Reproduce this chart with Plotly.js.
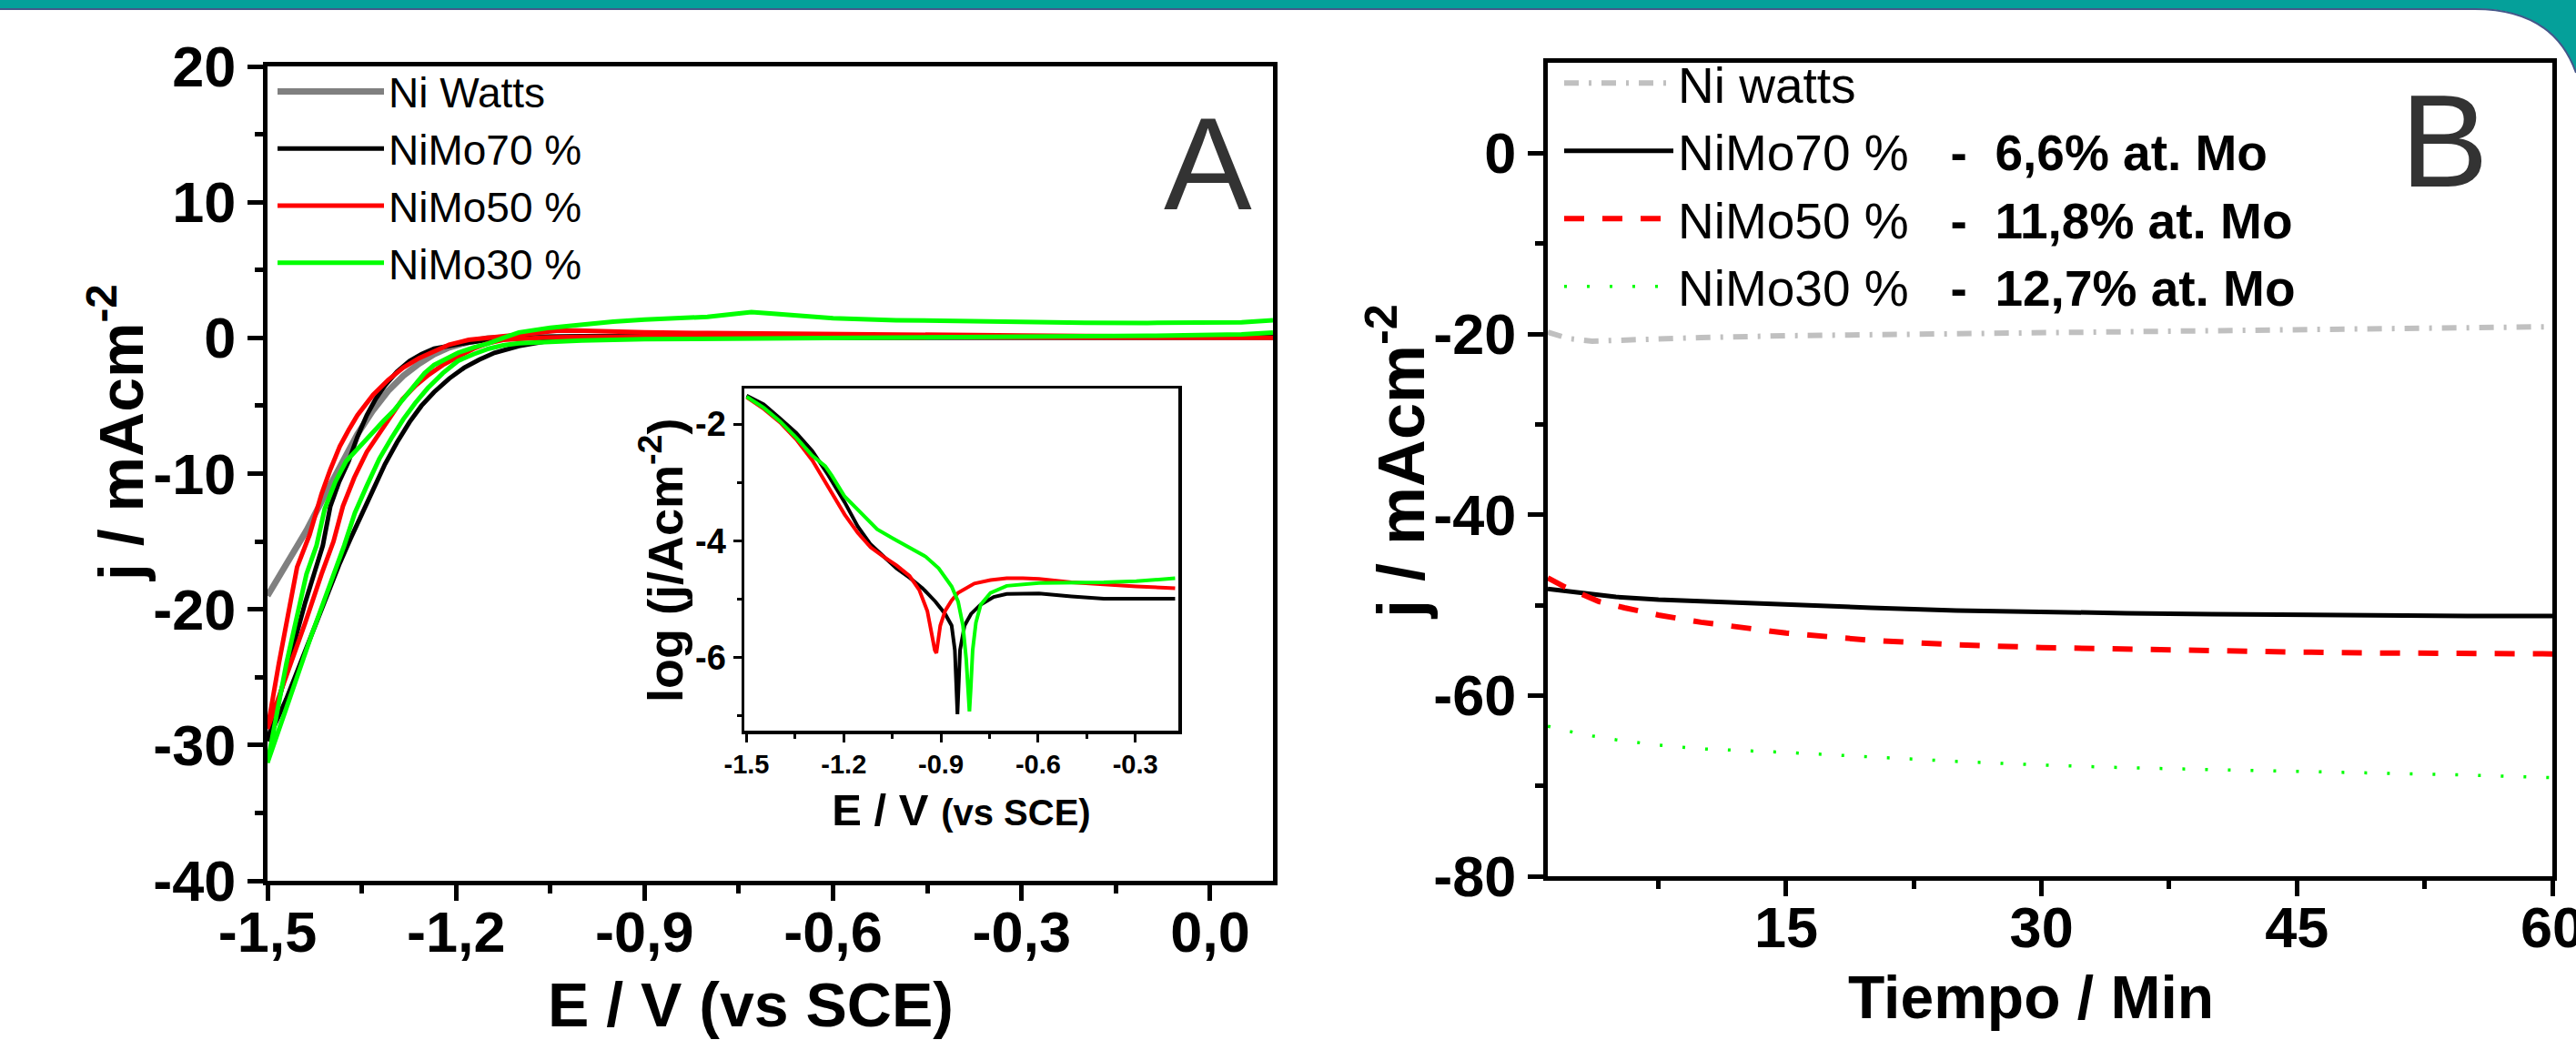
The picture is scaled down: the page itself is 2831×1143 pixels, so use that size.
<!DOCTYPE html>
<html>
<head>
<meta charset="utf-8">
<script src="https://cdn.plot.ly/plotly-3.0.1.min.js"></script>
<style>
html,body{margin:0;padding:0;background:#ffffff;}
#chart{width:2831px;height:1143px;}
</style>
</head>
<body>
<div id="chart"></div>
<script>
// ---------------- Panel A : cyclic voltammetry (E / V vs SCE, j / mA cm-2) ----------------
const cvNames = ["Ni Watts", "NiMo70 %", "NiMo50 %", "NiMo30 %"];

const cvE_NiWatts = [-1.5, -1.47, -1.438, -1.41, -1.385, -1.357, -1.333, -1.308, -1.284, -1.259, -1.235, -1.211, -1.18, -1.15, -1.1, -0.9, -0.6, -0.3, 0.0, 0.1];
const cvJ_NiWatts = [-19.0, -16.6, -14.2, -11.7, -9.5, -7.1, -5.4, -3.9, -2.8, -1.9, -1.2, -0.7, -0.3, -0.05, 0.05, 0.05, 0.05, 0.05, 0.05, 0.05];

const cvE_NiMo70 = [0.1, -0.1, -0.3, -0.5, -0.7, -0.85, -0.95, -1.0, -1.05, -1.1, -1.139, -1.163, -1.187, -1.211, -1.235, -1.255, -1.274, -1.294, -1.313, -1.332, -1.351, -1.368, -1.385, -1.41, -1.44, -1.47, -1.5,
                    -1.47, -1.44, -1.426, -1.412, -1.4, -1.386, -1.371, -1.357, -1.342, -1.328, -1.313, -1.294, -1.274, -1.255, -1.235, -1.21, -1.187, -1.15, -1.1, -1.05, -1.0, -0.95, -0.9, -0.8, -0.6, -0.4, -0.2, 0.0, 0.1];
const cvJ_NiMo70 = [0.05, 0.05, 0.05, 0.05, 0.05, 0.05, 0.03, -0.05, -0.2, -0.6, -1.1, -1.6, -2.2, -3.0, -4.0, -5.0, -6.2, -7.7, -9.3, -11.2, -13.0, -14.8, -16.6, -19.6, -23.2, -26.6, -29.7,
                    -24.5, -19.5, -17.4, -15.3, -12.4, -10.6, -9.1, -7.3, -5.7, -4.5, -3.5, -2.5, -1.7, -1.2, -0.8, -0.55, -0.4, -0.15, 0.0, 0.08, 0.12, 0.1, 0.08, 0.06, 0.05, 0.05, 0.05, 0.05, 0.05];

const cvE_NiMo50 = [0.1, 0.0, -0.2, -0.4, -0.6, -0.8, -0.9, -1.0, -1.06, -1.1, -1.125, -1.15, -1.172, -1.195, -1.221, -1.243, -1.264, -1.285, -1.303, -1.323, -1.342, -1.362, -1.38, -1.395, -1.414, -1.44, -1.47, -1.5,
                    -1.482, -1.453, -1.433, -1.414, -1.4, -1.385, -1.371, -1.357, -1.332, -1.308, -1.284, -1.259, -1.235, -1.211, -1.18, -1.148, -1.12, -1.1, -1.07, -1.04, -1.01, -0.98, -0.95, -0.9, -0.8, -0.7, -0.6, -0.45, -0.3, -0.15, 0.0, 0.1];
const cvJ_NiMo50 = [0.0, 0.02, 0.04, 0.05, 0.06, 0.08, 0.1, 0.08, 0.02, -0.05, -0.15, -0.4, -0.8, -1.35, -2.0, -2.7, -3.5, -4.5, -5.7, -7.0, -8.4, -10.3, -12.4, -15.0, -17.4, -21.0, -25.0, -28.8,
                    -24.0, -16.9, -14.5, -11.5, -9.7, -8.0, -6.8, -5.7, -4.2, -3.1, -2.2, -1.5, -1.0, -0.5, -0.15, 0.0, 0.12, 0.25, 0.42, 0.52, 0.55, 0.5, 0.45, 0.4, 0.35, 0.3, 0.27, 0.22, 0.18, 0.12, 0.05, 0.0];

const cvE_NiMo30 = [0.1, 0.05, -0.1, -0.3, -0.5, -0.7, -0.9, -1.0, -1.05, -1.1, -1.125, -1.148, -1.172, -1.197, -1.221, -1.245, -1.265, -1.284, -1.303, -1.322, -1.342, -1.361, -1.378, -1.395, -1.43, -1.465, -1.5,
                    -1.47, -1.438, -1.422, -1.409, -1.392, -1.375, -1.353, -1.332, -1.315, -1.298, -1.281, -1.264, -1.25, -1.235, -1.215, -1.197, -1.172, -1.148, -1.125, -1.1, -1.05, -1.0, -0.95, -0.9, -0.85, -0.8, -0.76, -0.73, -0.7, -0.65, -0.6, -0.5, -0.4, -0.3, -0.2, -0.1, 0.0, 0.05, 0.1];
const cvJ_NiMo30 = [0.4, 0.25, 0.15, 0.1, 0.05, 0.0, -0.1, -0.2, -0.3, -0.4, -0.55, -0.8, -1.2, -1.7, -2.6, -3.7, -4.8, -6.0, -7.4, -8.9, -10.9, -12.9, -15.3, -17.4, -21.9, -26.6, -31.3,
                    -24.0, -17.4, -15.3, -12.6, -10.6, -9.1, -8.0, -6.9, -6.1, -5.3, -4.3, -3.3, -2.6, -2.0, -1.5, -1.1, -0.7, -0.4, 0.0, 0.4, 0.75, 1.0, 1.2, 1.35, 1.45, 1.55, 1.75, 1.9, 1.8, 1.6, 1.45, 1.3, 1.22, 1.15, 1.12, 1.1, 1.1, 1.15, 1.3];

// ---------------- Inset : Tafel plot (E / V vs SCE, log j) ----------------
const tafelE_NiMo70 = [-1.5, -1.447, -1.397, -1.347, -1.297, -1.247, -1.197, -1.157, -1.117, -1.077, -1.037, -0.997, -0.957, -0.917, -0.887, -0.867, -0.857, -0.849, -0.841, -0.827, -0.807, -0.777, -0.737, -0.697, -0.597, -0.497, -0.397, -0.297, -0.177];
const tafelLogJ_NiMo70 = [-1.51, -1.66, -1.90, -2.15, -2.46, -2.88, -3.34, -3.75, -4.06, -4.27, -4.47, -4.63, -4.81, -5.04, -5.25, -5.45, -5.87, -6.97, -5.87, -5.45, -5.25, -5.09, -4.96, -4.91, -4.90, -4.95, -4.99, -4.99, -4.99];

const tafelE_NiMo50 = [-1.5, -1.447, -1.397, -1.347, -1.297, -1.247, -1.197, -1.157, -1.117, -1.077, -1.037, -0.997, -0.967, -0.942, -0.927, -0.919, -0.914, -0.909, -0.902, -0.887, -0.867, -0.847, -0.797, -0.747, -0.697, -0.647, -0.597, -0.497, -0.397, -0.297, -0.177];
const tafelLogJ_NiMo50 = [-1.54, -1.74, -1.97, -2.26, -2.62, -3.08, -3.55, -3.86, -4.11, -4.27, -4.42, -4.60, -4.84, -5.20, -5.61, -5.87, -5.92, -5.71, -5.45, -5.20, -5.02, -4.89, -4.73, -4.67, -4.64, -4.64, -4.65, -4.71, -4.75, -4.78, -4.81];

const tafelE_NiMo30 = [-1.5, -1.447, -1.397, -1.347, -1.297, -1.257, -1.237, -1.197, -1.147, -1.097, -1.047, -0.997, -0.947, -0.907, -0.867, -0.847, -0.832, -0.822, -0.815, -0.812, -0.808, -0.802, -0.792, -0.777, -0.747, -0.697, -0.597, -0.497, -0.397, -0.297, -0.177];
const tafelLogJ_NiMo30 = [-1.53, -1.72, -1.95, -2.23, -2.54, -2.72, -2.88, -3.24, -3.52, -3.80, -3.96, -4.11, -4.27, -4.47, -4.78, -5.04, -5.45, -6.02, -6.64, -6.92, -6.54, -5.87, -5.40, -5.09, -4.89, -4.77, -4.72, -4.72, -4.71, -4.69, -4.64];

// ---------------- Panel B : chronoamperometry (Tiempo / Min, j / mA cm-2) ----------------
const chronoNames = ["Ni watts", "NiMo70 %", "NiMo50 %", "NiMo30 %"];
const chronoMo = ["", "6,6% at. Mo", "11,8% at. Mo", "12,7% at. Mo"];

const timeNiWatts = [1, 2.2, 3.6, 6, 10, 15, 20, 30, 40, 50, 60];
const jNiWatts = [-19.8, -20.5, -20.8, -20.6, -20.4, -20.2, -20.1, -19.8, -19.6, -19.4, -19.2];

const timeNiMo70 = [1, 3, 5, 7.5, 10, 15, 20, 25, 30, 35, 40, 45, 50, 55, 60];
const jNiMo70 = [-48.2, -48.7, -49.1, -49.4, -49.6, -50.0, -50.3, -50.6, -50.8, -50.9, -51.0, -51.1, -51.15, -51.2, -51.2];

const timeNiMo50 = [1, 2, 3, 4, 5.5, 7.5, 10, 12.5, 15, 20, 25, 30, 35, 40, 45, 50, 55, 60];
const jNiMo50 = [-47.0, -48.0, -48.8, -49.6, -50.3, -51.1, -51.9, -52.5, -53.1, -53.9, -54.4, -54.7, -54.9, -55.1, -55.2, -55.3, -55.35, -55.4];

const timeNiMo30 = [1, 3, 5, 7.5, 10, 15, 20, 25, 30, 35, 40, 45, 50, 55, 60];
const jNiMo30 = [-63.4, -64.3, -64.9, -65.5, -65.9, -66.3, -66.8, -67.3, -67.7, -68.0, -68.2, -68.4, -68.6, -68.8, -69.1];

// ---------------- Tick labels and titles ----------------
const xTickValsA = [-1.5, -1.2, -0.9, -0.6, -0.3, 0.0];
const xTickTextA = ["-1,5", "-1,2", "-0,9", "-0,6", "-0,3", "0,0"];
const yTickValsA = [-40, -30, -20, -10, 0, 10, 20];
const yTickTextA = ["-40", "-30", "-20", "-10", "0", "10", "20"];
const xTickValsInset = [-1.5, -1.2, -0.9, -0.6, -0.3];
const xTickTextInset = ["-1.5", "-1.2", "-0.9", "-0.6", "-0.3"];
const yTickValsInset = [-6, -4, -2];
const yTickTextInset = ["-6", "-4", "-2"];
const xTickValsB = [15, 30, 45, 60];
const xTickTextB = ["15", "30", "45", "60"];
const yTickValsB = [-80, -60, -40, -20, 0];
const yTickTextB = ["-80", "-60", "-40", "-20", "0"];

const titleXA = "E / V (vs SCE)";
const titleYA = "j / mAcm<sup>-2</sup>";
const titleXB = "Tiempo / Min";
const titleYB = "j / mAcm<sup>-2</sup>";
const titleXInset = "E / V <span style='font-size:40px'>(vs SCE)</span>";
const titleYInset = "log (j/Acm<sup>-2</sup>)";
const panelLabels = ["A", "B"];

// ---------------- Drawing ----------------
const W = 2831, H = 1143;
const px = v => v / W;
const py = v => 1 - v / H;
const FONT = "Liberation Sans, Arial, Helvetica, sans-serif";
const NB = "\u00a0";

const colA = ["#808080", "#000000", "#ff0000", "#00ff00"];
const widA = [7, 5, 5, 5];
const cvX = [cvE_NiWatts, cvE_NiMo70, cvE_NiMo50, cvE_NiMo30];
const cvY = [cvJ_NiWatts, cvJ_NiMo70, cvJ_NiMo50, cvJ_NiMo30];

const traces = [];
for (let i = 0; i < 4; i++) {
  traces.push({
    type: "scatter", mode: "lines", x: cvX[i], y: cvY[i], name: cvNames[i],
    xaxis: "x", yaxis: "y", legend: "legend",
    line: {color: colA[i], width: widA[i]}, hoverinfo: "skip"
  });
}
const tafX = [tafelE_NiMo70, tafelE_NiMo50, tafelE_NiMo30];
const tafY = [tafelLogJ_NiMo70, tafelLogJ_NiMo50, tafelLogJ_NiMo30];
for (let i = 0; i < 3; i++) {
  traces.push({
    type: "scatter", mode: "lines", x: tafX[i], y: tafY[i], name: cvNames[i + 1],
    xaxis: "x3", yaxis: "y3", showlegend: false,
    line: {color: colA[i + 1], width: 4}, hoverinfo: "skip"
  });
}
const chX = [timeNiWatts, timeNiMo70, timeNiMo50, timeNiMo30];
const chY = [jNiWatts, jNiMo70, jNiMo50, jNiMo30];
const chLine = [
  {color: "#c0c0c0", width: 6, dash: "16px,11px,3px,11px"},
  {color: "#000000", width: 5},
  {color: "#ff0000", width: 6, dash: "22px,20px"},
  {color: "#00ff00", width: 3.5, dash: "3px,22px"}
];
for (let i = 0; i < 4; i++) {
  const nm = chronoMo[i] ? chronoNames[i] + NB + NB + NB + "<b>-" + NB + NB + chronoMo[i] + "</b>" : chronoNames[i];
  traces.push({
    type: "scatter", mode: "lines", x: chX[i], y: chY[i], name: nm,
    xaxis: "x2", yaxis: "y2", legend: "legend2",
    line: chLine[i], hoverinfo: "skip"
  });
}

function axisStyle(extra) {
  return Object.assign({
    showline: true, linecolor: "#000", linewidth: 5, mirror: true,
    ticks: "outside", ticklen: 17, tickwidth: 5, tickcolor: "#000",
    showgrid: false, zeroline: false, tickmode: "array",
    tickfont: {family: FONT, size: 63, color: "#000", weight: "bold"},
    fixedrange: true
  }, extra);
}
function minor(vals, len, w) {
  return {tickmode: "array", tickvals: vals, ticks: "outside", ticklen: len, tickwidth: w, tickcolor: "#000", showgrid: false};
}
function titleAnn(text, x, y, size, angle) {
  return {text: text, xref: "paper", yref: "paper", x: px(x), y: py(y), xanchor: "center", yanchor: "middle",
          showarrow: false, textangle: angle, font: {family: FONT, size: size, color: "#000", weight: "bold"}};
}

const layout = {
  width: W, height: H,
  margin: {l: 0, r: 0, t: 0, b: 0, pad: 0},
  paper_bgcolor: "#ffffff", plot_bgcolor: "#ffffff",
  font: {family: FONT, color: "#000"},
  showlegend: true,
  xaxis: axisStyle({
    domain: [px(294), px(1399)], range: [-1.5, 0.1], anchor: "y",
    tickvals: xTickValsA, ticktext: xTickTextA, ticklabelstandoff: -20,
    minor: minor([-1.35, -1.05, -0.75, -0.45, -0.15], 9, 5)
  }),
  yaxis: axisStyle({
    domain: [py(968), py(73)], range: [-40, 20], anchor: "x",
    tickvals: yTickValsA, ticktext: yTickTextA,
    minor: minor([-35, -25, -15, -5, 5, 15], 9, 5)
  }),
  xaxis2: axisStyle({
    domain: [px(1701), px(2805)], range: [1, 60], anchor: "y2",
    tickvals: xTickValsB, ticktext: xTickTextB, ticklabelstandoff: -20, ticklabeloverflow: "allow",
    minor: minor([7.5, 22.5, 37.5, 52.5], 9, 5)
  }),
  yaxis2: axisStyle({
    domain: [py(963), py(69)], range: [-80, 10], anchor: "x2",
    tickvals: yTickValsB, ticktext: yTickTextB,
    minor: minor([-70, -50, -30, -10], 9, 5)
  }),
  xaxis3: axisStyle({
    domain: [px(818), px(1295)], range: [-1.507, -0.167], anchor: "y3",
    linewidth: 3.5, ticklen: 9, tickwidth: 3,
    tickvals: xTickValsInset, ticktext: xTickTextInset,
    tickfont: {family: FONT, size: 29, color: "#000", weight: "bold"},
    minor: minor([-1.35, -1.05, -0.75, -0.45], 5, 3),
    title: {text: titleXInset, font: {family: FONT, size: 49, color: "#000", weight: "bold"}, standoff: 18}
  }),
  yaxis3: axisStyle({
    domain: [py(803), py(427)], range: [-7.25, -1.39], anchor: "x3",
    linewidth: 3.5, ticklen: 9, tickwidth: 3,
    tickvals: yTickValsInset, ticktext: yTickTextInset,
    tickfont: {family: FONT, size: 38, color: "#000", weight: "bold"},
    minor: minor([-7, -5, -3], 5, 3)
  }),
  legend: {
    x: px(300), y: py(64), xanchor: "left", yanchor: "top",
    bgcolor: "rgba(0,0,0,0)", borderwidth: 0, itemwidth: 117, tracegroupgap: 0,
    font: {family: FONT, size: 46, color: "#000"}, itemclick: false, itemdoubleclick: false
  },
  legend2: {
    x: px(1714), y: py(49), xanchor: "left", yanchor: "top",
    bgcolor: "rgba(0,0,0,0)", borderwidth: 0, itemwidth: 120, tracegroupgap: 0,
    font: {family: FONT, size: 55, color: "#000"}, itemclick: false, itemdoubleclick: false
  },
  annotations: [
    {text: panelLabels[0], xref: "paper", yref: "paper", x: px(1327), y: py(180), xanchor: "center", yanchor: "middle",
     showarrow: false, font: {family: FONT, size: 145, color: "#333333"}},
    {text: panelLabels[1], xref: "paper", yref: "paper", x: px(2686), y: py(155), xanchor: "center", yanchor: "middle",
     showarrow: false, font: {family: FONT, size: 145, color: "#333333"}},
    titleAnn(titleXA, 825, 1104, 68, 0),
    titleAnn(titleYA, 128, 476, 68, -90),
    titleAnn(titleXB, 2232, 1096, 66, 0),
    titleAnn(titleYB, 1534, 508, 72, -90),
    titleAnn(titleYInset, 727, 616, 54, -90)
  ],
  shapes: [
    {type: "rect", xref: "paper", yref: "paper", x0: 0, x1: 1, y0: py(9.5), y1: 1,
     fillcolor: "#05a09a", line: {width: 0}, layer: "below"},
    {type: "path", xref: "paper", yref: "paper",
     path: "M" + px(2600) + "," + py(0) + " L" + px(2600) + "," + py(9.5) + " L" + px(2720) + "," + py(9.5) +
           " C" + px(2780) + "," + py(9.5) + " " + px(2815) + "," + py(35) + " " + px(2831) + "," + py(80) +
           " L" + px(2831) + "," + py(0) + " Z",
     fillcolor: "#05a09a", line: {width: 0}, layer: "below"},
    {type: "path", xref: "paper", yref: "paper",
     path: "M0," + py(10) + " L" + px(2720) + "," + py(10) +
           " C" + px(2780) + "," + py(10) + " " + px(2815) + "," + py(35) + " " + px(2831) + "," + py(80),
     line: {color: "#44578a", width: 2}, layer: "below"}
  ]
};

Plotly.newPlot("chart", traces, layout, {displayModeBar: false, staticPlot: true});
</script>
</body>
</html>
